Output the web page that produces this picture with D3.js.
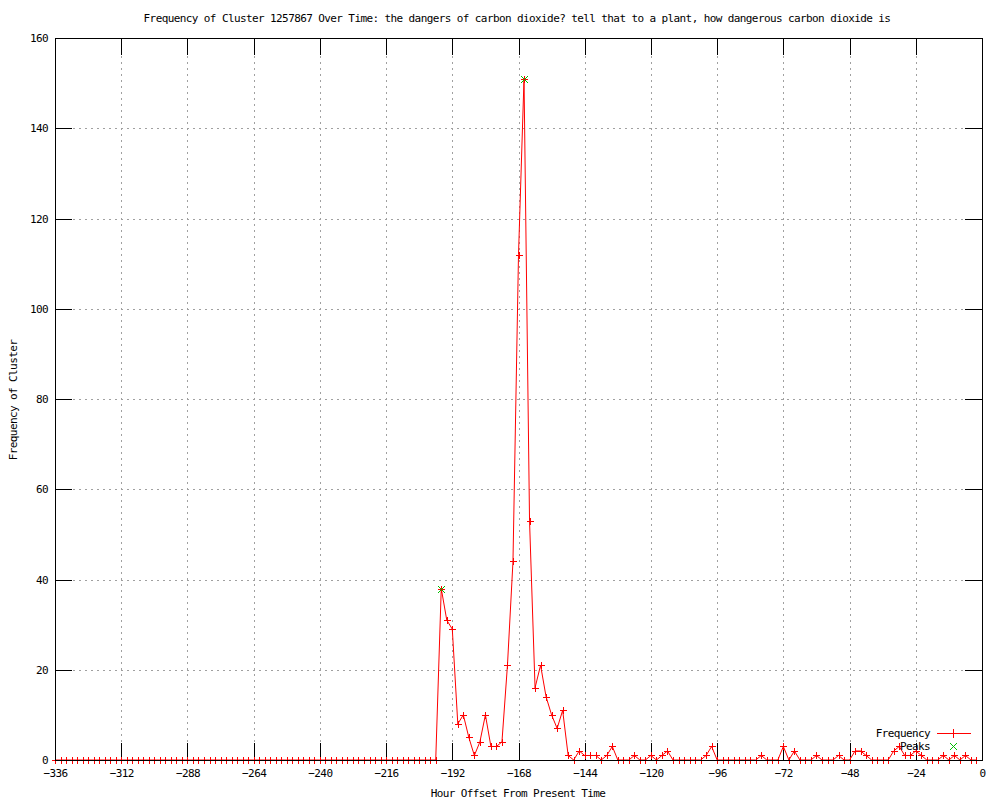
<!DOCTYPE html>
<html>
<head>
<meta charset="utf-8">
<script src="https://cdn.jsdelivr.net/npm/d3@7"></script>
<style>
  body { margin: 0; background: #fff; }
  text { font-family: "DejaVu Sans Mono", "Liberation Mono", monospace; font-size: 11px; letter-spacing: -0.6px; fill: #000; }
</style>
</head>
<body>
<div id="chart-container"></div>
<script>
// hours run from -336 to -2 in steps of 2
const hourStart = -336;
const hourStep = 2;

// Frequency of the cluster for each 2-hour bucket
const frequency = [
  0, 0, 0, 0, 0, 0, 0, 0, 0, 0,
  0, 0, 0, 0, 0, 0, 0, 0, 0, 0,
  0, 0, 0, 0, 0, 0, 0, 0, 0, 0,
  0, 0, 0, 0, 0, 0, 0, 0, 0, 0,
  0, 0, 0, 0, 0, 0, 0, 0, 0, 0,
  0, 0, 0, 0, 0, 0, 0, 0, 0, 0,
  0, 0, 0, 0, 0, 0, 0, 0, 0, 0,
  38, 31, 29, 8, 10, 5, 1, 4, 10, 3,
  3, 4, 21, 44, 112, 151, 53, 16, 21, 14,
  10, 7, 11, 1, 0, 2, 1, 1, 1, 0,
  1, 3, 0, 0, 0, 1, 0, 0, 1, 0,
  1, 2, 0, 0, 0, 0, 0, 0, 1, 3,
  0, 0, 0, 0, 0, 0, 0, 0, 1, 0,
  0, 0, 3, 0, 2, 0, 0, 0, 1, 0,
  0, 0, 1, 0, 0, 2, 2, 1, 0, 0,
  0, 0, 2, 3, 1, 1, 2, 1, 0, 0,
  0, 1, 0, 1, 0, 1, 0, 0
];

const peakHours = [-196, -166];
const peakValues = [38, 151];

const xTicks = [-336, -312, -288, -264, -240, -216, -192, -168, -144, -120, -96, -72, -48, -24, 0];
const yTicks = [0, 20, 40, 60, 80, 100, 120, 140, 160];

const titleText = "Frequency of Cluster 1257867 Over Time: the dangers of carbon dioxide? tell that to a plant, how dangerous carbon dioxide is";
const xLabel = "Hour Offset From Present Time";
const yLabel = "Frequency of Cluster";

const width = 1000, height = 800;
const margin = { top: 38, right: 18, bottom: 40, left: 55 };
const tickLen = 17;
const red = "#ff0000", green = "#00c000";

const x = d3.scaleLinear().domain([-336, 0]).range([margin.left, width - margin.right]);
const y = d3.scaleLinear().domain([0, 160]).range([height - margin.bottom, margin.top]);

const data = frequency.map((v, i) => ({ hour: hourStart + i * hourStep, value: v }));
const peaks = peakHours.map((h, i) => ({ hour: h, value: peakValues[i] }));

const svg = d3.select("#chart-container")
  .append("svg")
  .attr("width", width)
  .attr("height", height);

svg.append("rect").attr("width", width).attr("height", height).attr("fill", "#fff");

// dotted grid
const grid = svg.append("g")
  .style("stroke", "#a0a0a0")
  .attr("stroke-width", 1)
  .attr("stroke-dasharray", "2,4")
  .attr("shape-rendering", "crispEdges");

grid.selectAll("line.gx")
  .data(xTicks.slice(1, -1))
  .join("line")
  .attr("class", "gx")
  .attr("x1", d => Math.round(x(d)) + 0.5)
  .attr("x2", d => Math.round(x(d)) + 0.5)
  .attr("y1", y(0))
  .attr("y2", y(160));

grid.selectAll("line.gy")
  .data(yTicks.slice(1, -1))
  .join("line")
  .attr("class", "gy")
  .attr("y1", d => Math.round(y(d)) + 0.5)
  .attr("y2", d => Math.round(y(d)) + 0.5)
  .attr("x1", x(-336))
  .attr("x2", x(0));

// axes with inward ticks on all four sides
const axisB = svg.append("g")
  .attr("transform", `translate(0,${y(0)})`)
  .call(d3.axisBottom(x).tickValues(xTicks).tickSizeInner(-tickLen).tickSizeOuter(0).tickPadding(9));

const axisL = svg.append("g")
  .attr("transform", `translate(${x(-336)},0)`)
  .call(d3.axisLeft(y).tickValues(yTicks).tickSizeInner(-tickLen).tickSizeOuter(0).tickPadding(7));

const axisT = svg.append("g")
  .attr("transform", `translate(0,${y(160)})`)
  .call(d3.axisTop(x).tickValues(xTicks).tickSizeInner(-tickLen).tickSizeOuter(0).tickFormat(""));

const axisR = svg.append("g")
  .attr("transform", `translate(${x(0)},0)`)
  .call(d3.axisRight(y).tickValues(yTicks).tickSizeInner(-tickLen).tickSizeOuter(0).tickFormat(""));

[axisB, axisL, axisT, axisR].forEach(g => {
  g.select(".domain").remove();
  g.attr("font-family", null).attr("font-size", null);
  g.selectAll(".tick line").attr("stroke", "#000").attr("shape-rendering", "crispEdges");
  g.selectAll(".tick text").attr("fill", "#000");
});

// frequency line
const line = d3.line()
  .x(d => x(d.hour))
  .y(d => y(d.value));

svg.append("path")
  .datum(data)
  .attr("fill", "none")
  .style("stroke", red)
  .attr("stroke-width", 1)
  .attr("d", line);

// plus / cross markers, snapped to the pixel grid
const m = 3.5;
const snap = v => Math.round(v) + 0.5;
const plus = (px, py) => {
  px = snap(px); py = snap(py);
  return `M${px - m},${py}H${px + m}M${px},${py - m}V${py + m}`;
};
const cross = (px, py) => {
  px = snap(px); py = snap(py);
  return `M${px - m},${py - m}L${px + m},${py + m}M${px - m},${py + m}L${px + m},${py - m}`;
};

svg.append("path")
  .attr("fill", "none")
  .style("stroke", red)
  .attr("stroke-width", 1)
  .attr("shape-rendering", "crispEdges")
  .attr("d", data.map(d => plus(x(d.hour), y(d.value))).join(""));

// peaks
svg.append("path")
  .attr("fill", "none")
  .style("stroke", green)
  .attr("stroke-width", 1)
  .attr("shape-rendering", "crispEdges")
  .attr("d", peaks.map(d => cross(x(d.hour), y(d.value))).join(""));

// border
svg.append("rect")
  .attr("x", x(-336) + 0.5)
  .attr("y", y(160) + 0.5)
  .attr("width", x(0) - x(-336))
  .attr("height", y(0) - y(160))
  .attr("fill", "none")
  .style("stroke", "#000")
  .attr("shape-rendering", "crispEdges");

// legend
const legend = svg.append("g").attr("shape-rendering", "crispEdges");
legend.append("text").attr("x", 930).attr("y", 737).attr("text-anchor", "end").text("Frequency");
legend.append("rect").attr("x", 937).attr("y", 733).attr("width", 34).attr("height", 1).style("fill", red);
legend.append("rect").attr("x", 953).attr("y", 729).attr("width", 1).attr("height", 9).style("fill", red);
legend.append("text").attr("x", 930).attr("y", 750).attr("text-anchor", "end").text("Peaks");
legend.append("path")
  .attr("d", cross(953, 746))
  .style("stroke", green).attr("stroke-width", 1).style("fill", "none");

// titles
svg.append("text")
  .attr("x", 517).attr("y", 22)
  .attr("text-anchor", "middle")
  .text(titleText);

svg.append("text")
  .attr("x", 518).attr("y", 797)
  .attr("text-anchor", "middle")
  .text(xLabel);

svg.append("text")
  .attr("transform", "translate(17,400) rotate(-90)")
  .attr("text-anchor", "middle")
  .text(yLabel);
</script>
</body>
</html>
